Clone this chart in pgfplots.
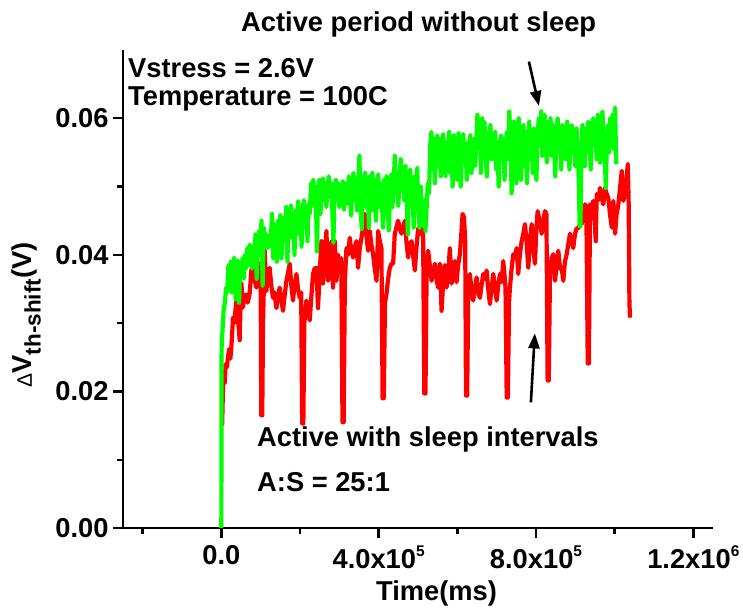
\documentclass[border=0pt]{standalone}
\usepackage{fontspec}
\setmainfont{Liberation Sans}
\usepackage{pgfplots}
\pgfplotsset{compat=1.18}
\usetikzlibrary{arrows.meta}
\definecolor{cRed}{RGB}{255,0,0}
\definecolor{cGreen}{RGB}{0,255,0}
\newcommand{\bigf}{\fontsize{27.3}{31}\selectfont\bfseries}
\newcommand{\supf}[1]{\raisebox{0.45em}{\fontsize{15.5}{15.5}\selectfont\bfseries #1}}
\begin{document}
\begin{tikzpicture}
\begin{axis}[
  scale only axis, width=590pt, height=478pt,
  at={(0pt,0pt)}, anchor=south west,
  xmin=-250000, xmax=1250000, ymin=0, ymax=0.07,
  axis lines*=left,
  axis line style={line width=2.6pt, black},
  tick align=outside,
  major tick length=10pt, minor tick length=5.5pt,
  every tick/.style={line width=2.4pt, black},
  xtick={0,400000,800000,1200000},
  xticklabels={0.0,4.0x10\supf{5},8.0x10\supf{5},1.2x10\supf{6}},
  minor xtick={-200000,200000,600000,1000000},
  ytick={0,0.02,0.04,0.06},
  yticklabels={0.00,0.02,0.04,0.06},
  minor ytick={0.01,0.03,0.05},
  scaled x ticks=false, scaled y ticks=false,
  ticklabel style={font=\bigf},
  xticklabel style={anchor=north, yshift=-4pt},
  yticklabel style={anchor=east, xshift=-1pt},
  clip=false,
]
\addplot[cRed, line width=4.2pt, line join=round] table {
x y
2000 0.0150
4000 0.0200
6000 0.0225
8400 0.0212
11000 0.0240
14000 0.0235
16800 0.0250
20000 0.0262
23000 0.0248
25400 0.0264
28000 0.0290
29500 0.0308
33000 0.0300
36000 0.0320
38200 0.0333
41000 0.0310
44000 0.0295
46600 0.0275
49000 0.0330
50900 0.0359
55000 0.0323
59000 0.0340
63600 0.0342
67000 0.0330
72000 0.0343
76400 0.0377
80400 0.0387
84000 0.0365
89100 0.0352
93100 0.0387
97500 0.0387
100000 0.0360
101500 0.0165
104000 0.0165
106000 0.0300
110200 0.0406
114500 0.0347
118000 0.0370
122900 0.0381
127000 0.0355
131300 0.0337
135000 0.0345
140000 0.0322
144000 0.0340
148400 0.0352
152000 0.0335
156800 0.0318
161000 0.0340
165400 0.0362
170000 0.0375
173800 0.0387
178000 0.0355
182200 0.0333
186000 0.0355
190900 0.0372
195000 0.0350
199300 0.0337
203000 0.0345
205500 0.0153
208500 0.0153
211000 0.0300
216300 0.0333
220000 0.0320
224700 0.0304
229000 0.0340
233100 0.0372
237000 0.0380
241800 0.0381
245800 0.0322
250000 0.0372
254500 0.0420
258500 0.0358
263000 0.0400
267200 0.0435
271300 0.0362
276000 0.0395
279900 0.0420
284000 0.0352
288300 0.0420
292700 0.0362
297000 0.0400
301000 0.0380
305000 0.0395
308000 0.0155
311000 0.0155
314000 0.0360
318100 0.0410
322000 0.0400
326500 0.0425
330000 0.0410
334900 0.0396
339000 0.0410
343600 0.0420
347600 0.0381
352000 0.0410
356300 0.0425
360000 0.0440
364700 0.0460
368500 0.0430
373100 0.0406
377400 0.0435
381500 0.0415
385800 0.0401
390000 0.0380
394500 0.0362
398500 0.0435
403000 0.0420
407000 0.0410
410000 0.0190
413000 0.0190
416000 0.0330
419900 0.0343
424000 0.0365
428300 0.0381
432500 0.0387
436700 0.0387
441000 0.0431
445000 0.0440
449400 0.0450
454000 0.0438
458100 0.0431
462000 0.0440
466500 0.0450
470500 0.0420
474900 0.0396
479000 0.0415
483600 0.0420
487500 0.0400
492000 0.0377
496000 0.0410
500400 0.0439
504500 0.0430
509000 0.0445
513000 0.0430
516000 0.0197
519000 0.0197
522000 0.0380
525800 0.0406
530000 0.0385
534500 0.0362
538500 0.0375
542900 0.0387
547000 0.0365
551200 0.0352
555600 0.0387
559900 0.0318
564000 0.0360
568000 0.0385
572600 0.0352
577000 0.0375
581000 0.0410
585400 0.0358
589500 0.0375
593800 0.0391
598000 0.0360
602000 0.0385
606500 0.0401
610000 0.0430
613300 0.0460
617000 0.0455
620000 0.0420
622000 0.0194
625000 0.0194
628000 0.0360
631900 0.0372
636000 0.0350
640300 0.0333
644500 0.0350
649000 0.0367
653000 0.0345
657400 0.0337
661500 0.0355
665800 0.0372
670000 0.0365
674400 0.0377
678500 0.0350
682800 0.0328
687000 0.0350
691200 0.0372
695500 0.0355
699900 0.0333
704000 0.0355
708300 0.0372
712500 0.0360
716700 0.0391
720000 0.0370
722500 0.0352
725500 0.0191
728500 0.0191
731500 0.0330
733700 0.0352
738000 0.0380
742100 0.0401
746500 0.0395
750800 0.0410
754800 0.0372
759000 0.0400
763500 0.0420
767500 0.0430
771900 0.0445
776000 0.0420
780300 0.0381
784500 0.0420
789000 0.0445
793000 0.0410
797400 0.0387
801000 0.0440
804200 0.0464
809000 0.0450
814400 0.0431
818500 0.0450
822800 0.0464
826500 0.0460
829500 0.0216
832500 0.0216
835500 0.0372
839500 0.0395
843900 0.0401
848300 0.0362
852500 0.0385
856700 0.0406
861000 0.0380
865300 0.0381
869400 0.0362
873500 0.0390
878000 0.0401
882000 0.0415
886400 0.0431
890500 0.0420
894800 0.0410
899000 0.0430
903500 0.0439
907600 0.0439
912000 0.0445
916200 0.0445
920500 0.0460
924600 0.0474
928000 0.0470
931500 0.0241
934500 0.0241
937300 0.0474
941500 0.0470
945700 0.0479
950000 0.0440
952000 0.0420
954400 0.0489
958500 0.0480
962800 0.0498
967000 0.0485
971200 0.0474
975500 0.0498
979500 0.0490
983900 0.0483
988000 0.0460
992600 0.0440
996600 0.0479
1001000 0.0431
1005000 0.0460
1009400 0.0474
1014000 0.0500
1018000 0.0523
1022000 0.0479
1026400 0.0489
1030000 0.0510
1033300 0.0533
1035500 0.0480
1037500 0.0330
1039000 0.0308
};
\addplot[cGreen, line width=4.2pt, line join=round] table {
x y
0 0.0000
300 0.0120
700 0.0264
3000 0.0290
6000 0.0320
9000 0.0330
12000 0.0352
15000 0.0345
18000 0.0385
21000 0.0360
24000 0.0390
27000 0.0345
30000 0.0385
33000 0.0396
36000 0.0335
39000 0.0380
42000 0.0392
45000 0.0330
48000 0.0385
51000 0.0370
54000 0.0395
57000 0.0365
60000 0.0400
63000 0.0380
66000 0.0410
69000 0.0385
72000 0.0415
75000 0.0395
78000 0.0380
81000 0.0412
84000 0.0400
87000 0.0430
90000 0.0365
93000 0.0420
96000 0.0435
99000 0.0400
102000 0.0450
105000 0.0355
108000 0.0440
111000 0.0420
114000 0.0430
117000 0.0410
120000 0.0428
123000 0.0412
126000 0.0425
129000 0.0460
132000 0.0395
135000 0.0445
138000 0.0430
141000 0.0390
144000 0.0450
147000 0.0420
150000 0.0458
153000 0.0395
156000 0.0440
159000 0.0455
162000 0.0420
165000 0.0470
168000 0.0390
171000 0.0455
174000 0.0440
177000 0.0472
180000 0.0425
183000 0.0460
186000 0.0400
189000 0.0465
192000 0.0445
195000 0.0478
198000 0.0430
201000 0.0465
204000 0.0412
207000 0.0470
210000 0.0480
213000 0.0440
216000 0.0470
219000 0.0420
222000 0.0475
225000 0.0460
228000 0.0505
231000 0.0480
234000 0.0510
237000 0.0470
240000 0.0500
243000 0.0405
246000 0.0490
249000 0.0510
252000 0.0460
255000 0.0495
258000 0.0512
261000 0.0480
264000 0.0505
267000 0.0470
270000 0.0500
273000 0.0515
276000 0.0485
279000 0.0505
282000 0.0470
285000 0.0418
288000 0.0500
291000 0.0510
294000 0.0480
297000 0.0505
300000 0.0470
303000 0.0500
306000 0.0480
309000 0.0508
312000 0.0466
315000 0.0495
318000 0.0505
321000 0.0475
324000 0.0515
327000 0.0490
330000 0.0458
333000 0.0505
336000 0.0520
339000 0.0480
342000 0.0510
345000 0.0465
348000 0.0500
351000 0.0545
354000 0.0470
357000 0.0438
360000 0.0515
363000 0.0490
366000 0.0520
369000 0.0470
372000 0.0505
375000 0.0440
378000 0.0515
381000 0.0490
384000 0.0520
387000 0.0465
390000 0.0510
393000 0.0450
396000 0.0500
399000 0.0518
402000 0.0470
405000 0.0505
408000 0.0480
411000 0.0440
414000 0.0510
417000 0.0480
420000 0.0515
423000 0.0460
426000 0.0436
429000 0.0500
432000 0.0518
435000 0.0470
438000 0.0500
441000 0.0545
444000 0.0490
447000 0.0520
450000 0.0472
453000 0.0510
456000 0.0540
459000 0.0495
462000 0.0525
465000 0.0480
468000 0.0530
471000 0.0490
474000 0.0430
477000 0.0510
480000 0.0525
483000 0.0470
486000 0.0500
489000 0.0440
492000 0.0515
495000 0.0490
498000 0.0527
501000 0.0465
504000 0.0440
507000 0.0500
510000 0.0470
513000 0.0442
516000 0.0480
519000 0.0435
522000 0.0470
525000 0.0505
528000 0.0490
531000 0.0560
534000 0.0580
537000 0.0525
540000 0.0570
543000 0.0505
546000 0.0555
549000 0.0575
552000 0.0530
555000 0.0570
558000 0.0515
561000 0.0560
564000 0.0577
567000 0.0540
570000 0.0515
573000 0.0565
576000 0.0545
579000 0.0580
582000 0.0520
585000 0.0560
588000 0.0500
591000 0.0575
594000 0.0540
597000 0.0565
600000 0.0510
603000 0.0578
606000 0.0550
609000 0.0500
612000 0.0560
615000 0.0577
618000 0.0535
621000 0.0560
624000 0.0510
627000 0.0565
630000 0.0545
633000 0.0575
636000 0.0520
639000 0.0555
642000 0.0570
645000 0.0530
648000 0.0560
651000 0.0605
654000 0.0560
657000 0.0590
660000 0.0520
663000 0.0600
666000 0.0570
669000 0.0595
672000 0.0545
675000 0.0515
678000 0.0580
681000 0.0560
684000 0.0590
687000 0.0540
690000 0.0575
693000 0.0550
696000 0.0580
699000 0.0525
702000 0.0565
705000 0.0500
708000 0.0560
711000 0.0575
714000 0.0540
717000 0.0570
720000 0.0510
723000 0.0555
726000 0.0580
729000 0.0540
732000 0.0610
735000 0.0570
738000 0.0490
741000 0.0560
744000 0.0595
747000 0.0550
750000 0.0505
753000 0.0575
756000 0.0600
759000 0.0545
762000 0.0510
765000 0.0565
768000 0.0590
771000 0.0530
774000 0.0580
777000 0.0505
780000 0.0560
783000 0.0595
786000 0.0540
789000 0.0570
792000 0.0520
795000 0.0585
798000 0.0555
801000 0.0510
804000 0.0575
807000 0.0600
810000 0.0560
813000 0.0610
816000 0.0545
819000 0.0590
822000 0.0605
825000 0.0555
828000 0.0535
831000 0.0595
834000 0.0570
837000 0.0600
840000 0.0545
843000 0.0590
846000 0.0560
849000 0.0515
852000 0.0580
855000 0.0600
858000 0.0550
861000 0.0575
864000 0.0525
867000 0.0590
870000 0.0560
873000 0.0585
876000 0.0540
879000 0.0595
882000 0.0565
885000 0.0525
888000 0.0580
891000 0.0590
894000 0.0550
897000 0.0575
900000 0.0530
903000 0.0585
906000 0.0560
909000 0.0500
911000 0.0442
913000 0.0442
915000 0.0530
918000 0.0590
921000 0.0560
924000 0.0530
927000 0.0585
930000 0.0550
933000 0.0595
936000 0.0570
939000 0.0525
942000 0.0580
945000 0.0600
948000 0.0560
951000 0.0590
954000 0.0540
957000 0.0605
960000 0.0575
963000 0.0535
966000 0.0590
969000 0.0610
972000 0.0560
975000 0.0540
977500 0.0498
980000 0.0560
983000 0.0590
986000 0.0550
989000 0.0600
992000 0.0570
995000 0.0605
998000 0.0555
1001000 0.0615
1004000 0.0533
};
\draw[-{Triangle[length=15pt,width=11pt]}, line width=2.6pt] (axis cs:782000,0.0683) -- (axis cs:807500,0.0618);
\draw[-{Triangle[length=15pt,width=11pt]}, line width=2.6pt] (axis cs:787000,0.0184) -- (axis cs:797000,0.0285);
\end{axis}
\node[anchor=base west, inner sep=0pt, font=\bigf] at (118pt,496pt) {Active period without sleep};
\node[anchor=base west, inner sep=0pt, font=\bigf] at (5pt,450pt) {Vstress = 2.6V};
\node[anchor=base west, inner sep=0pt, font=\bigf] at (5pt,422pt) {Temperature = 100C};
\node[anchor=base west, inner sep=0pt, font=\bigf] at (134pt,81pt) {Active with sleep intervals};
\node[anchor=base west, inner sep=0pt, font=\bigf] at (134pt,36pt) {A:S = 25:1};
\node[anchor=base, inner sep=0pt, font=\bigf] at (313.5pt,-72pt) {Time(ms)};
\node[anchor=base, inner sep=0pt, rotate=90, font=\bigf] at (-91pt,213pt) {{\fontsize{21}{21}\selectfont\mdseries Δ}V\raisebox{-0.32em}{\fontsize{22.5}{22.5}\selectfont\bfseries th-shift}(V)};
\pgfresetboundingbox
\path[use as bounding box] (-123pt,-87pt) rectangle (620pt,528pt);
\end{tikzpicture}
\end{document}
